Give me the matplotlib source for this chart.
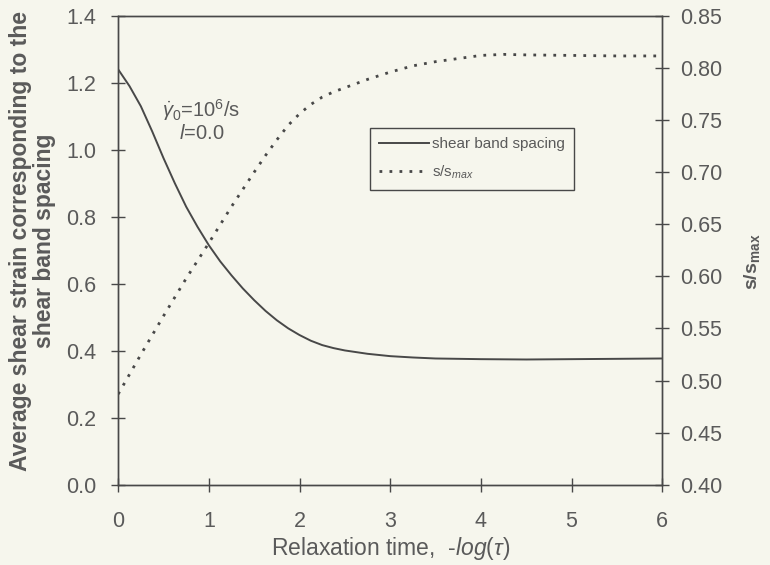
import matplotlib
matplotlib.use("Agg")
import matplotlib.pyplot as plt

plt.rcParams['font.family'] = ['Liberation Sans', 'DejaVu Sans']
plt.rcParams['mathtext.fontset'] = 'custom'
plt.rcParams['mathtext.rm'] = 'Liberation Sans'
plt.rcParams['mathtext.it'] = 'Liberation Sans:italic'
plt.rcParams['mathtext.bf'] = 'Liberation Sans:bold'

# relaxation time, -log(tau)
relax = [0.0, 0.125, 0.25, 0.375, 0.5, 0.625, 0.75, 0.875, 1.0, 1.125, 1.25,
         1.375, 1.5, 1.625, 1.75, 1.875, 2.0, 2.125, 2.25, 2.375, 2.5, 2.75,
         3.0, 3.25, 3.5, 4.0, 4.5, 5.0, 5.5, 6.0]
# average shear strain at the shear band spacing (left axis)
strain = [1.24, 1.19, 1.13, 1.055, 0.975, 0.90, 0.83, 0.77, 0.715, 0.667,
          0.625, 0.586, 0.551, 0.519, 0.491, 0.467, 0.447, 0.430, 0.417,
          0.408, 0.401, 0.391, 0.384, 0.380, 0.377, 0.375, 0.374, 0.375,
          0.376, 0.377]

relax_s = [0.0, 0.25, 0.5, 0.75, 1.0, 1.25, 1.5, 1.625, 1.75, 1.875, 2.0,
           2.125, 2.25, 2.375, 2.5, 2.75, 3.0, 3.25, 3.5, 3.75, 4.0, 4.25,
           4.5, 5.0, 5.5, 6.0]
# s/s_max (right axis)
s_ratio = [0.487, 0.525, 0.562, 0.598, 0.632, 0.667, 0.700, 0.716, 0.731,
           0.745, 0.756, 0.765, 0.772, 0.777, 0.781, 0.789, 0.796, 0.802,
           0.806, 0.809, 0.812, 0.813, 0.8125, 0.812, 0.8115, 0.8115]

left_ticks = [0.0, 0.2, 0.4, 0.6, 0.8, 1.0, 1.2, 1.4]
right_ticks = [0.40, 0.45, 0.50, 0.55, 0.60, 0.65, 0.70, 0.75, 0.80, 0.85]

bg = '#f6f6ed'
ink = '#484848'
txt = '#5a5a5a'

fig = plt.figure(figsize=(7.7, 5.65), dpi=100, facecolor=bg)
ax = fig.add_axes([0.1535, 0.142, 0.7065, 0.830])
ax.set_facecolor(bg)
ax2 = ax.twinx()

l1, = ax.plot(relax, strain, color=ink, lw=1.4, label='shear band spacing')
l2, = ax2.plot(relax_s, s_ratio, color=ink, lw=2.0, linestyle=(0, (1, 2.6)),
               label=r's/s$_{max}$')

ax.set_xlim(0, 6)
ax.set_ylim(0, 1.4)
ax2.set_ylim(0.40, 0.85)
ax.set_xticks(range(7))
ax.set_yticks(left_ticks)
ax.set_yticklabels(['%.1f' % v for v in left_ticks])
ax2.set_yticks(right_ticks)
ax2.set_yticklabels(['%.2f' % v for v in right_ticks])

for a in (ax, ax2):
    for s in a.spines.values():
        s.set_color(ink)
        s.set_linewidth(1.0)
    a.tick_params(direction='inout', length=10, width=1.0, color=ink,
                  labelcolor=txt, labelsize=15.5, pad=8)
ax.tick_params(axis='y', right=False, pad=11)
ax.tick_params(axis='x', top=False, pad=14)
ax2.tick_params(axis='y', left=False)

ax.set_xlabel(r'Relaxation time,  -$\mathit{log}(\tau)$', fontsize=16.5,
              color=txt, labelpad=2)
ax.set_ylabel('Average shear strain corresponding to the\nshear band spacing',
              fontsize=16.5, fontweight='bold', color=txt, labelpad=7,
              linespacing=1.05)
ax.yaxis.label.set_y(0.52)
ax2.set_ylabel(r'$\mathbf{s/s_{max}}$', fontsize=14, color=txt, labelpad=14)
ax2.yaxis.label.set_y(0.475)

ax.text(0.92, 1.12, r'$\dot{\gamma}_0$=10$^6$/s', fontsize=14.5, color=txt,
        ha='center', va='center')
ax.text(0.92, 1.05, r'$l$=0.0', fontsize=14.5, color=txt,
        ha='center', va='center')

leg = ax.legend(handles=[l1, l2], loc='upper left',
                bbox_to_anchor=(0.448, 0.777), fontsize=11, frameon=True,
                fancybox=False, framealpha=1.0, facecolor=bg,
                edgecolor=ink, handlelength=3.3, handletextpad=0.2,
                borderpad=0.6, labelspacing=0.8)
leg.get_frame().set_linewidth(1.0)
for t in leg.get_texts():
    t.set_color(txt)

fig.savefig('out.png', dpi=100, facecolor=bg)
